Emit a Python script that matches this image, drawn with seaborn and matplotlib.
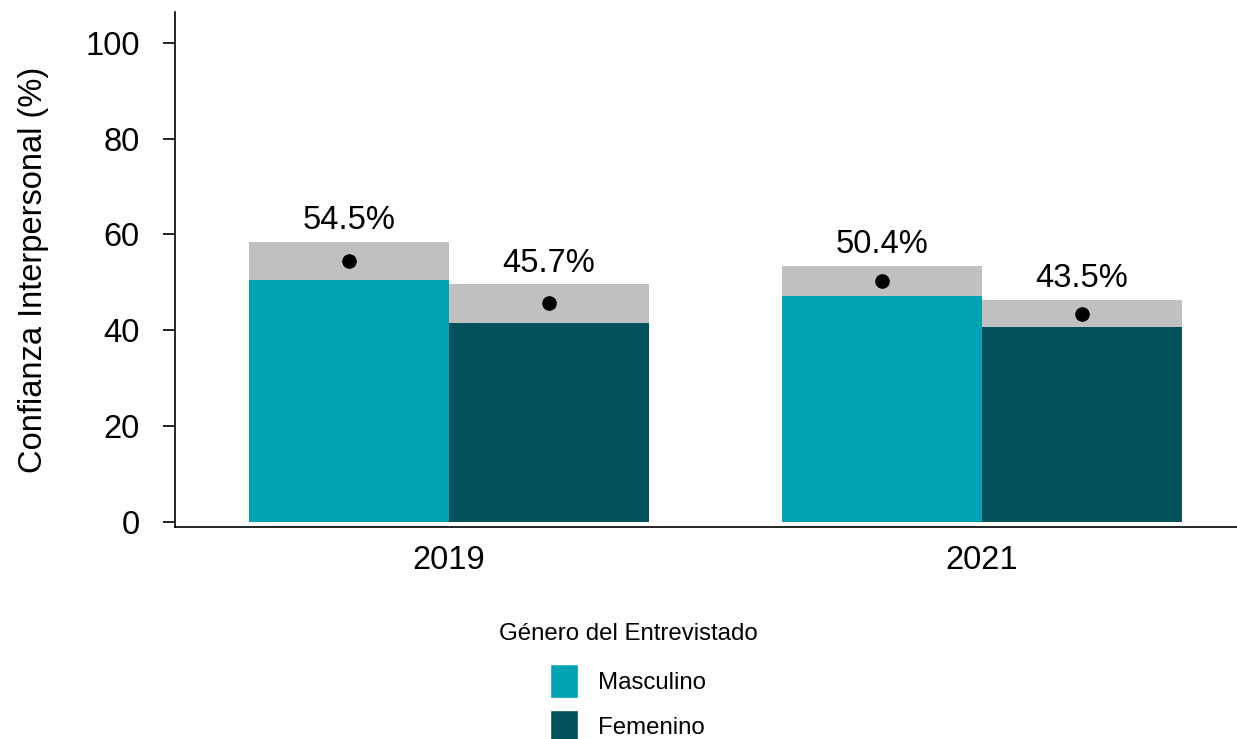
import pandas as pd
import matplotlib.pyplot as plt
import seaborn as sns
from matplotlib.patches import Patch

sns.set_style("white")
plt.rcParams["font.family"] = ["Liberation Sans", "DejaVu Sans"]
plt.rcParams["text.color"] = "black"
plt.rcParams["axes.labelcolor"] = "black"
plt.rcParams["xtick.color"] = "black"
plt.rcParams["ytick.color"] = "black"

# data
years = ["2019", "2019", "2021", "2021"]
genders = ["Masculino", "Femenino", "Masculino", "Femenino"]
means = [54.5, 45.7, 50.4, 43.5]
lower = [50.5, 41.6, 47.2, 40.7]
upper = [58.5, 49.6, 53.5, 46.3]

df = pd.DataFrame({"year": years, "gender": genders, "mean": means,
                   "lo": lower, "hi": upper})

palette = {"Masculino": "#00A3B2", "Femenino": "#03515A"}
gray = "#C0C0C0"

fig = plt.figure(figsize=(12.37, 7.39), dpi=100)
ax = fig.add_axes([175 / 1237, 1 - 527 / 739, 1063 / 1237, 515 / 739])

sns.barplot(data=df, x="year", y="mean", hue="gender", palette=palette,
            hue_order=["Masculino", "Femenino"], errorbar=None, saturation=1,
            width=0.75, linewidth=0, legend=False, ax=ax)

# CI boxes, dots and labels on top of each bar
for cont, g in zip(ax.containers, ["Masculino", "Femenino"]):
    sub = df[df["gender"] == g].set_index("year")
    for bar, yr in zip(cont.patches, ["2019", "2021"]):
        row = sub.loc[yr]
        xc = bar.get_x() + bar.get_width() / 2
        ax.bar(xc, row["hi"] - row["lo"], bottom=row["lo"], width=bar.get_width(),
               color=gray, linewidth=0, zorder=3)
        ax.plot(xc, row["mean"], "o", color="black", markersize=9.5, zorder=4)
        ax.text(xc, row["hi"] + 1.2, f"{row['mean']:.1f}%", ha="center", va="bottom",
                fontsize=23.5, zorder=5)

ax.set_xlim(-0.514, 1.48)
ax.set_ylim(-1.0, 106.4)
ax.set_yticks([0, 20, 40, 60, 80, 100])
ax.set_xlabel("")
ax.set_ylabel("Confianza Interpersonal (%)", fontsize=23.5, labelpad=26)
ax.tick_params(axis="y", labelsize=23.5, length=8.5, width=1.2, pad=17, left=True)
ax.tick_params(axis="x", labelsize=23.5, length=0, pad=13)

sns.despine(ax=ax)
for s in ["left", "bottom"]:
    ax.spines[s].set_color("black")
    ax.spines[s].set_linewidth(1.2)

handles = [Patch(facecolor=palette["Masculino"], label="Masculino"),
           Patch(facecolor=palette["Femenino"], label="Femenino")]
leg = fig.legend(handles=handles, title="Género del Entrevistado", loc="upper center",
                 bbox_to_anchor=(628 / 1237, 1 - 611 / 739), frameon=False,
                 fontsize=17.3, title_fontsize=17.3, handlelength=1.17, handleheight=1.74,
                 handletextpad=0.8, labelspacing=0.5, borderpad=0)
leg._legend_box.sep = 14

fig.savefig("out.png", dpi=100)
